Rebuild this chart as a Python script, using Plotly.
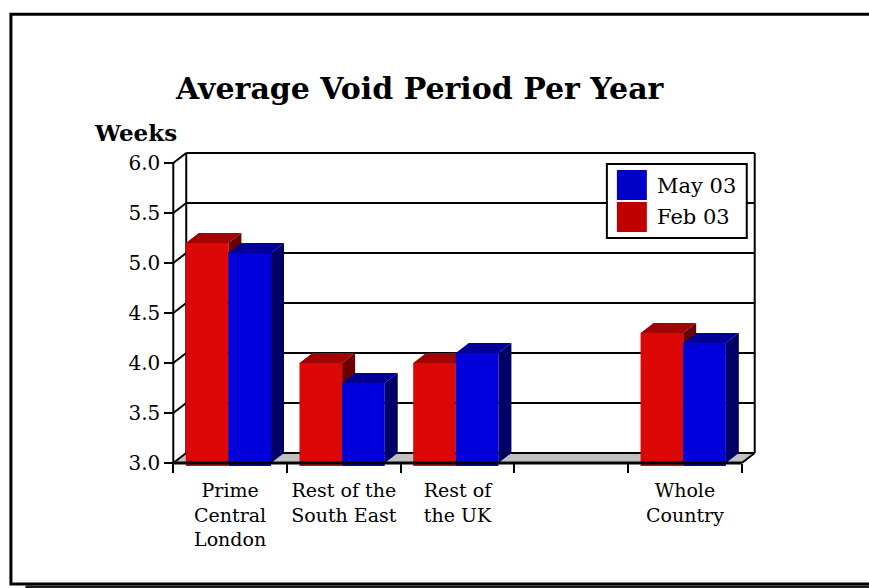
import plotly.graph_objects as go

# ---- data -------------------------------------------------------------
categories = ["Prime<br>Central<br>London", "Rest of the<br>South East",
              "Rest of<br>the UK", "", "Whole<br>Country"]
feb_03 = [5.2, 4.0, 4.0, None, 4.3]
may_03 = [5.1, 3.8, 4.1, None, 4.2]
y_ticks = [3.0, 3.5, 4.0, 4.5, 5.0, 5.5, 6.0]

# ---- geometry / style -------------------------------------------------
Y_MIN, Y_MAX = 3.0, 6.0
DEPTH_X = 0.114        # receding offset of the 3-D look (category units)
DEPTH_Y = 0.10         # receding offset of the 3-D look (value units)
BAR_W = 0.375
FEB_OFFSET = -0.39
MAY_OFFSET = -0.015
PAD_X, PAD_Y = 0.02, 0.03

X0, X1 = -0.5, len(categories) - 0.5
W, H = 869, 588
PX_PER_CAT = 113.8
PX_PER_UNIT = 100.0
L = 173 - PAD_X * PX_PER_CAT
PW = (X1 - X0 + DEPTH_X + 2 * PAD_X) * PX_PER_CAT
R = W - L - PW
B = H - 463 - PAD_Y * PX_PER_UNIT
PH = (Y_MAX - Y_MIN + DEPTH_Y + 2 * PAD_Y) * PX_PER_UNIT
T = H - B - PH

FONT = "DejaVu Serif"
RED = dict(front="#dc0808", top="#a00404", side="#6c0000", key="#c00000")
BLUE = dict(front="#0000dc", top="#000099", side="#000066", key="#0000c8")


def px(x):
    return (x - L) / PW


def py(y):
    return (H - B - y) / PH


def faces(values, offset):
    """Top and right-side parallelograms of each 3-D bar."""
    tx, ty, sx, sy = [], [], [], []
    for i, v in enumerate(values):
        if v is None:
            continue
        a = i + offset
        b = a + BAR_W
        tx += [a, b, b + DEPTH_X, a + DEPTH_X, a, None]
        ty += [v, v, v + DEPTH_Y, v + DEPTH_Y, v, None]
        sx += [b, b, b + DEPTH_X, b + DEPTH_X, b, None]
        sy += [Y_MIN, v, v + DEPTH_Y, Y_MIN + DEPTH_Y, Y_MIN, None]
    return tx, ty, sx, sy


def series_traces(name, values, offset, colors, xa, ya):
    tx, ty, sx, sy = faces(values, offset)
    return [
        go.Bar(x=list(range(len(values))), y=values, name=name,
               offset=offset, width=BAR_W, marker=dict(color=colors["front"], line=dict(width=0)),
               xaxis=xa, yaxis=ya, showlegend=False, hoverinfo="y+name"),
        go.Scatter(x=tx, y=ty, mode="lines", fill="toself", fillcolor=colors["top"],
                   line=dict(width=0), xaxis=xa, yaxis=ya, showlegend=False, hoverinfo="skip"),
        go.Scatter(x=sx, y=sy, mode="lines", fill="toself", fillcolor=colors["side"],
                   line=dict(width=0), xaxis=xa, yaxis=ya, showlegend=False, hoverinfo="skip"),
    ]


fig = go.Figure()
# Feb 03 on the base axes, May 03 on an overlaid pair so it paints in front
for t in series_traces("Feb 03", feb_03, FEB_OFFSET, RED, "x", "y"):
    fig.add_trace(t)
for t in series_traces("May 03", may_03, MAY_OFFSET, BLUE, "x2", "y2"):
    fig.add_trace(t)

x_range = [X0 - PAD_X, X1 + DEPTH_X + PAD_X]
y_range = [Y_MIN - PAD_Y, Y_MAX + DEPTH_Y + PAD_Y]

shapes = []
# floor
shapes.append(dict(type="path", xref="x", yref="y", layer="below",
                   path=f"M {X0},{Y_MIN} L {X1},{Y_MIN} L {X1 + DEPTH_X},{Y_MIN + DEPTH_Y} "
                        f"L {X0 + DEPTH_X},{Y_MIN + DEPTH_Y} Z",
                   fillcolor="#c0c0c0", line=dict(width=0)))
# back wall grid and the left-side connectors
for v in y_ticks:
    shapes.append(dict(type="line", xref="x", yref="y", layer="below",
                       x0=X0 + DEPTH_X, x1=X1 + DEPTH_X, y0=v + DEPTH_Y, y1=v + DEPTH_Y,
                       line=dict(color="black", width=2)))
    shapes.append(dict(type="line", xref="x", yref="y", layer="below",
                       x0=X0, x1=X0 + DEPTH_X, y0=v, y1=v + DEPTH_Y,
                       line=dict(color="black", width=2)))
for xv in (X0 + DEPTH_X, X1 + DEPTH_X):
    shapes.append(dict(type="line", xref="x", yref="y", layer="below",
                       x0=xv, x1=xv, y0=Y_MIN + DEPTH_Y, y1=Y_MAX + DEPTH_Y,
                       line=dict(color="black", width=2)))
# front edges
shapes.append(dict(type="line", xref="x", yref="y", layer="above",
                   x0=X0, x1=X0, y0=Y_MIN, y1=Y_MAX, line=dict(color="black", width=2)))
shapes.append(dict(type="line", xref="x", yref="y", layer="above",
                   x0=X0, x1=X1, y0=Y_MIN, y1=Y_MIN, line=dict(color="black", width=3)))
shapes.append(dict(type="line", xref="x", yref="y", layer="above",
                   x0=X1, x1=X1 + DEPTH_X, y0=Y_MIN, y1=Y_MIN + DEPTH_Y,
                   line=dict(color="black", width=2)))

# outer frame with drop shadow
shapes.append(dict(type="line", xref="paper", yref="paper", layer="above",
                   x0=px(25), x1=px(880), y0=py(587), y1=py(587),
                   line=dict(color="#1a1a1a", width=3)))
shapes.append(dict(type="rect", xref="paper", yref="paper", layer="above",
                   x0=px(10.5), x1=px(880), y0=py(14.3), y1=py(584),
                   line=dict(color="black", width=3)))

# legend box
shapes.append(dict(type="rect", xref="paper", yref="paper", layer="above",
                   x0=px(607), x1=px(747), y0=py(164), y1=py(238),
                   fillcolor="white", line=dict(color="black", width=2)))
shapes.append(dict(type="rect", xref="paper", yref="paper", layer="above",
                   x0=px(617), x1=px(647), y0=py(170), y1=py(200),
                   fillcolor=BLUE["key"], line=dict(width=0)))
shapes.append(dict(type="rect", xref="paper", yref="paper", layer="above",
                   x0=px(617), x1=px(647), y0=py(202), y1=py(232),
                   fillcolor=RED["key"], line=dict(width=0)))

annotations = [
    dict(text="Average Void Period Per Year", xref="paper", yref="paper",
         x=px(420), y=py(88), xanchor="center", yanchor="middle", showarrow=False,
         font=dict(family=FONT, size=30, color="black", weight="bold")),
    dict(text="Weeks", xref="paper", yref="paper",
         x=px(92), y=py(133), xanchor="left", yanchor="middle", showarrow=False,
         font=dict(family=FONT, size=23, color="black", weight="bold")),
    dict(text="May 03", xref="paper", yref="paper",
         x=px(655), y=py(186), xanchor="left", yanchor="middle", showarrow=False,
         font=dict(family=FONT, size=21, color="black")),
    dict(text="Feb 03", xref="paper", yref="paper",
         x=px(655), y=py(217), xanchor="left", yanchor="middle", showarrow=False,
         font=dict(family=FONT, size=21, color="black")),
]

fig.update_layout(
    width=W, height=H,
    margin=dict(l=L, r=R, t=T, b=B, pad=0),
    paper_bgcolor="white", plot_bgcolor="rgba(0,0,0,0)",
    barmode="overlay", showlegend=False,
    font=dict(family=FONT, color="black"),
    shapes=shapes, annotations=annotations,
    xaxis=dict(range=x_range, tickmode="array", tickvals=list(range(len(categories))),
               ticktext=categories, ticks="", showgrid=False, zeroline=False, showline=False,
               anchor="free", position=PAD_Y * PX_PER_UNIT / PH,
               ticklabelstandoff=14,
               tickfont=dict(family=FONT, size=19, color="black"),
               minor=dict(tickmode="array", tickvals=[X0 + k for k in range(len(categories) + 1)],
                          ticks="outside", ticklen=9, tickwidth=2, tickcolor="black",
                          showgrid=False),
               fixedrange=True),
    yaxis=dict(range=y_range, tickmode="array", tickvals=y_ticks,
               ticktext=[f"{v:.1f}" for v in y_ticks],
               ticks="outside", ticklen=9, tickwidth=2, tickcolor="black",
               showgrid=False, zeroline=False, showline=False,
               anchor="free", position=PAD_X * PX_PER_CAT / PW,
               tickfont=dict(family=FONT, size=20, color="black"),
               fixedrange=True),
    xaxis2=dict(range=x_range, overlaying="x", visible=False, fixedrange=True),
    yaxis2=dict(range=y_range, overlaying="y", visible=False, fixedrange=True),
)

fig.write_html("out.html")
